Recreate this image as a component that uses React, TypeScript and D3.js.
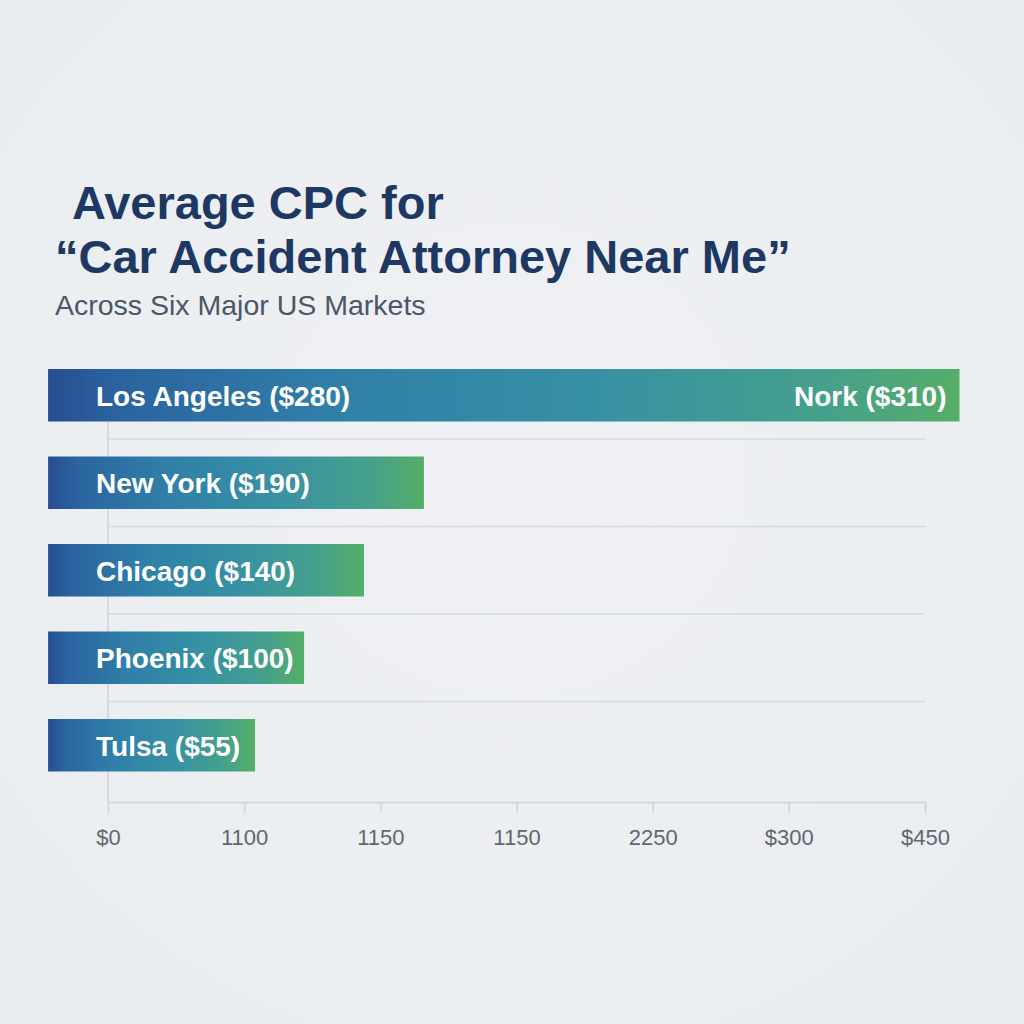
import { axisBottom, scaleBand, scaleLinear, select } from 'd3';
import React, { useEffect, useRef } from 'react';

// chart data
const cities = ['Los Angeles', 'New York', 'Chicago', 'Phoenix', 'Tulsa'];
const cpcLabels = [280, 190, 140, 100, 55];
// bar lengths as read against the axis
const barValues = [469, 174, 141, 108, 81];
const barBase = -33;
const tickValues = [0, 75, 150, 225, 300, 375, 450];
const tickLabels = ['$0', '1100', '1150', '1150', '2250', '$300', '$450'];
const extraLabel = 'Nork ($310)';

const WIDTH = 1024;
const HEIGHT = 1024;
const FONT = '"Liberation Sans", Arial, Helvetica, sans-serif';

const App: React.FC = () => {
  const svgRef = useRef<SVGSVGElement>(null);

  useEffect(() => {
    const svg = select(svgRef.current);
    svg.selectAll('*').remove();

    // Define Scales
    const xScale = scaleLinear().domain([0, 450]).range([108, 925]);
    const yScale = scaleBand<string>()
      .domain(cities)
      .range([369, 771.5])
      .paddingInner(0.4)
      .paddingOuter(0);

    // Background
    const defs = svg.append('defs');
    const bg = defs
      .append('radialGradient')
      .attr('id', 'bg')
      .attr('cx', '50%')
      .attr('cy', '45%')
      .attr('r', '75%');
    bg.append('stop').attr('offset', '0%').attr('stop-color', '#eff1f4');
    bg.append('stop').attr('offset', '100%').attr('stop-color', '#e9ecf0');
    svg
      .append('rect')
      .attr('width', WIDTH)
      .attr('height', HEIGHT)
      .attr('fill', 'url(#bg)');

    const grad = defs
      .append('linearGradient')
      .attr('id', 'bar-grad')
      .attr('x1', '0%')
      .attr('x2', '100%');
    [
      ['0%', '#274e91'],
      ['8%', '#2b64a0'],
      ['30%', '#2f7ea8'],
      ['60%', '#3791a4'],
      ['85%', '#45a08c'],
      ['100%', '#55ae67'],
    ].forEach(([o, c]) =>
      grad.append('stop').attr('offset', o).attr('stop-color', c),
    );

    // Titles
    svg
      .append('text')
      .attr('x', 72)
      .attr('y', 219)
      .attr('font-family', FONT)
      .attr('font-weight', 'bold')
      .attr('font-size', 47)
      .attr('fill', '#1d3862')
      .text('Average CPC for');
    svg
      .append('text')
      .attr('x', 55)
      .attr('y', 273)
      .attr('font-family', FONT)
      .attr('font-weight', 'bold')
      .attr('font-size', 47)
      .attr('fill', '#1d3862')
      .text('\u201CCar Accident Attorney Near Me\u201D');
    svg
      .append('text')
      .attr('x', 55)
      .attr('y', 315)
      .attr('font-family', FONT)
      .attr('font-size', 28.5)
      .attr('fill', '#4b5666')
      .text('Across Six Major US Markets');

    // Gridlines between bars
    const axisY = 802;
    const gridYs = cities.slice(1).map((c, i) => {
      const prevBottom = (yScale(cities[i]) ?? 0) + yScale.bandwidth();
      return (prevBottom + (yScale(c) ?? 0)) / 2;
    });
    svg
      .selectAll('.grid')
      .data(gridYs)
      .join('line')
      .attr('class', 'grid')
      .attr('x1', xScale(0))
      .attr('x2', xScale(450))
      .attr('y1', (d) => d)
      .attr('y2', (d) => d)
      .attr('stroke', '#d5d8dc')
      .attr('stroke-width', 1.5);

    // vertical axis line
    svg
      .append('line')
      .attr('x1', xScale(0))
      .attr('x2', xScale(0))
      .attr('y1', (yScale(cities[0]) ?? 0) + yScale.bandwidth())
      .attr('y2', axisY)
      .attr('stroke', '#cfd2d6')
      .attr('stroke-width', 1.5);

    // Draw Axis
    const xAxis = axisBottom(xScale)
      .tickValues(tickValues)
      .tickFormat((_, i) => tickLabels[i])
      .tickSize(11)
      .tickSizeOuter(0)
      .tickPadding(16);
    const gx = svg
      .append('g')
      .attr('transform', `translate(0, ${axisY})`)
      .call(xAxis);
    gx.select('.domain').attr('stroke', '#cfd2d6').attr('stroke-width', 1.5);
    gx.selectAll('.tick line')
      .attr('stroke', '#cfd2d6')
      .attr('stroke-width', 1.5);
    gx.selectAll('.tick text')
      .attr('font-family', FONT)
      .attr('font-size', 22)
      .attr('fill', '#62676e');

    // Draw Marks
    svg
      .selectAll('.bar')
      .data(barValues)
      .join('rect')
      .attr('class', 'bar')
      .attr('x', xScale(barBase))
      .attr('y', (_, i) => yScale(cities[i]) ?? 0)
      .attr('width', (d) => xScale(d) - xScale(barBase))
      .attr('height', yScale.bandwidth())
      .attr('fill', 'url(#bar-grad)');

    svg
      .selectAll('.bar-label')
      .data(cities)
      .join('text')
      .attr('class', 'bar-label')
      .attr('x', 96)
      .attr('y', (d) => (yScale(d) ?? 0) + yScale.bandwidth() / 2)
      .attr('dy', '0.38em')
      .attr('font-family', FONT)
      .attr('font-weight', 'bold')
      .attr('font-size', 28)
      .attr('fill', '#ffffff')
      .text((d, i) => `${d} ($${cpcLabels[i]})`);

    svg
      .append('text')
      .attr('x', xScale(barValues[0]) - 13)
      .attr('y', (yScale(cities[0]) ?? 0) + yScale.bandwidth() / 2)
      .attr('dy', '0.38em')
      .attr('text-anchor', 'end')
      .attr('font-family', FONT)
      .attr('font-weight', 'bold')
      .attr('font-size', 28)
      .attr('fill', '#ffffff')
      .text(extraLabel);
  }, []);

  return (
    <svg
      ref={svgRef}
      width={WIDTH}
      height={HEIGHT}
      style={{ position: 'absolute', left: 0, top: 0, display: 'block' }}
    />
  );
};

export default App;
